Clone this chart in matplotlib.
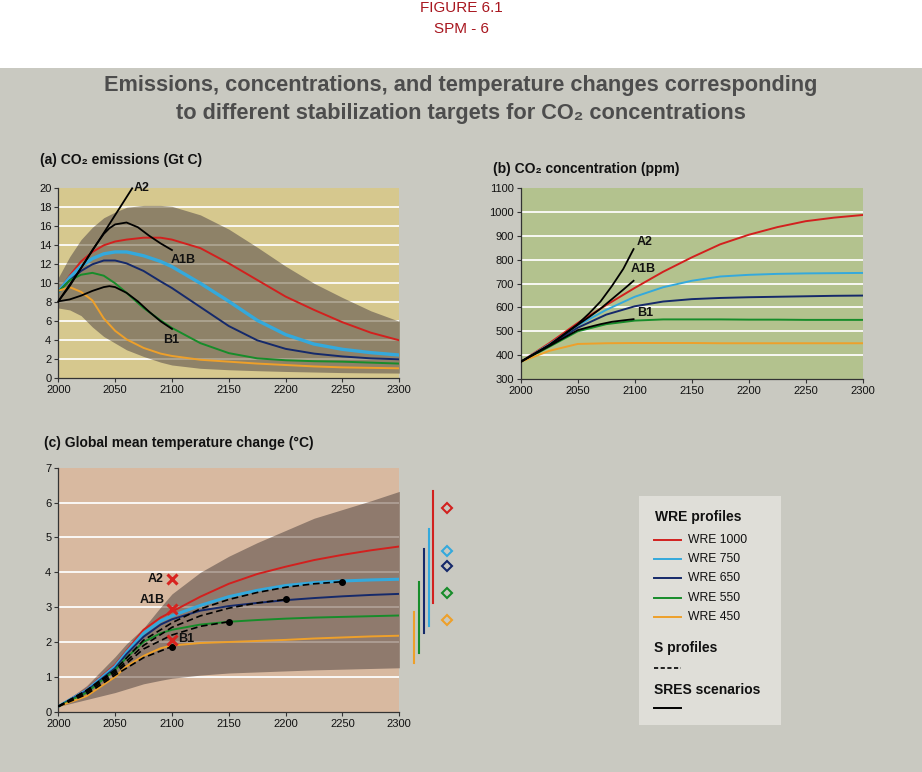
import matplotlib
matplotlib.use("Agg")
import matplotlib.pyplot as plt
from matplotlib.patches import Rectangle

plt.rcParams['font.family'] = ['Liberation Sans', 'DejaVu Sans']

# ---------------- data ----------------
wre_names = ["WRE 1000", "WRE 750", "WRE 650", "WRE 550", "WRE 450"]
wre_colors = ["#d2201e", "#34a9dc", "#15296a", "#178c2a", "#eea02a"]

# (a) emissions
em_years = [2000, 2010, 2020, 2030, 2040, 2050, 2060, 2075, 2090, 2100,
            2125, 2150, 2175, 2200, 2225, 2250, 2275, 2300]
em_1000 = [9.1, 10.8, 12.3, 13.3, 14.0, 14.4, 14.6, 14.8, 14.8, 14.6,
           13.7, 12.1, 10.35, 8.6, 7.2, 5.9, 4.8, 4.0]
em_750 = [9.1, 10.6, 11.8, 12.6, 13.1, 13.3, 13.3, 12.9, 12.3, 11.75,
          10.0, 8.1, 6.1, 4.6, 3.6, 3.05, 2.7, 2.45]
em_650 = [9.1, 10.3, 11.3, 12.0, 12.4, 12.4, 12.1, 11.3, 10.2, 9.5,
          7.5, 5.5, 4.0, 3.1, 2.6, 2.3, 2.1, 2.0]
em_550 = [9.1, 10.3, 10.9, 11.1, 10.8, 10.0, 9.0, 7.4, 6.1, 5.3,
          3.7, 2.65, 2.1, 1.9, 1.8, 1.75, 1.65, 1.55]
em_450 = [9.2, 9.6, 9.1, 8.2, 6.3, 5.0, 4.1, 3.2, 2.6, 2.35,
          1.95, 1.75, 1.55, 1.4, 1.25, 1.15, 1.1, 1.05]
em_band_hi = [10.6, 12.8, 14.6, 15.9, 16.9, 17.5, 18.0, 18.2, 18.2, 18.1,
              17.2, 15.7, 13.8, 11.8, 10.0, 8.5, 7.1, 6.0]
em_band_lo = [7.4, 7.2, 6.6, 5.4, 4.4, 3.7, 3.0, 2.3, 1.7, 1.4,
              1.05, 0.9, 0.8, 0.72, 0.66, 0.6, 0.57, 0.55]
a2_em_years = [2000, 2020, 2040, 2065]
a2_em = [8.1, 11.6, 15.3, 20.0]
sres_em_years = [2000, 2010, 2020, 2030, 2040, 2045, 2050, 2060, 2070, 2080, 2090, 2100]
a1b_em = [8.1, 9.7, 11.6, 13.5, 15.2, 15.8, 16.2, 16.4, 15.9, 15.0, 14.2, 13.5]
b1_em = [8.1, 8.3, 8.7, 9.2, 9.6, 9.7, 9.6, 9.0, 8.1, 7.0, 6.0, 5.2]

# (b) concentrations
co_years = [2000, 2025, 2050, 2075, 2100, 2125, 2150, 2175, 2200, 2225, 2250, 2275, 2300]
co_1000 = [372, 450, 535, 610, 682, 750, 810, 865, 905, 937, 962, 977, 988]
co_750 = [372, 445, 525, 590, 645, 685, 712, 730, 737, 741, 743, 744, 745]
co_650 = [372, 440, 515, 570, 605, 625, 635, 640, 643, 645, 647, 649, 650]
co_550 = [372, 435, 500, 530, 545, 550, 550, 550, 549, 549, 548, 548, 548]
co_450 = [372, 418, 447, 450, 451, 451, 451, 450, 450, 450, 450, 450, 450]
sres_co_years = [2000, 2025, 2050, 2060, 2070, 2080, 2090, 2099]
a2_co = [372, 442, 530, 575, 625, 690, 762, 845]
a1b_co = [372, 442, 527, 560, 595, 635, 675, 712]
b1_co = [372, 438, 505, 518, 530, 540, 546, 551]

# (c) temperature
t_years = [2000, 2025, 2050, 2060, 2075, 2090, 2100, 2125, 2150, 2175,
           2200, 2225, 2250, 2275, 2300]
t_1000 = [0.15, 0.65, 1.35, 1.75, 2.35, 2.7, 2.87, 3.3, 3.67, 3.95,
          4.16, 4.35, 4.5, 4.63, 4.74]
t_750 = [0.15, 0.62, 1.3, 1.7, 2.25, 2.6, 2.75, 3.05, 3.3, 3.48,
         3.62, 3.7, 3.75, 3.78, 3.8]
t_650 = [0.15, 0.6, 1.25, 1.65, 2.15, 2.5, 2.65, 2.9, 3.03, 3.12,
         3.2, 3.26, 3.31, 3.35, 3.38]
t_550 = [0.15, 0.55, 1.2, 1.55, 2.0, 2.25, 2.35, 2.5, 2.58, 2.63,
         2.67, 2.7, 2.72, 2.74, 2.76]
t_450 = [0.15, 0.45, 1.0, 1.3, 1.6, 1.82, 1.9, 1.97, 2.0, 2.03,
         2.06, 2.1, 2.13, 2.16, 2.18]
t_band_hi = [0.15, 0.75, 1.58, 1.95, 2.4, 3.0, 3.38, 4.0, 4.46, 4.85,
             5.2, 5.55, 5.8, 6.05, 6.32]
t_band_lo = [0.15, 0.35, 0.55, 0.65, 0.8, 0.9, 0.96, 1.05, 1.11, 1.14,
             1.17, 1.2, 1.22, 1.24, 1.26]
s_years = [2000, 2025, 2050, 2075, 2100, 2125, 2150, 2175, 2200, 2225, 2250]
s_450 = [0.15, 0.5, 1.05, 1.55, 1.87]
s_550 = [0.15, 0.55, 1.1, 1.8, 2.2, 2.45, 2.58]
s_650 = [0.15, 0.6, 1.15, 1.9, 2.42, 2.75, 2.97, 3.12, 3.22]
s_750 = [0.15, 0.62, 1.2, 2.05, 2.55, 2.95, 3.22, 3.42, 3.57, 3.67, 3.73]
sres_names = ["A2", "A1B", "B1"]
sres_t2100 = [3.8, 2.95, 2.05]
range_lo = [3.12, 2.46, 2.25, 1.67, 1.39]
range_hi = [6.33, 5.23, 4.67, 3.71, 2.87]
range_mid = [5.85, 4.62, 4.18, 3.41, 2.63]

x_ticks = [2000, 2050, 2100, 2150, 2200, 2250, 2300]
em_ticks = list(range(0, 21, 2))
co_ticks = list(range(300, 1101, 100))
t_ticks = list(range(0, 8))

# ---------------- styling ----------------
FIG_BG = "#c9c9c1"
TXT = "#111111"

fig = plt.figure(figsize=(9.22, 7.72), dpi=100, facecolor="white")
fig.add_artist(Rectangle((0, 0), 1, 1 - 68 / 772, transform=fig.transFigure,
                         facecolor=FIG_BG, edgecolor="none", zorder=-10))

fig.text(0.5, 1 - 8 / 772, "FIGURE 6.1", ha="center", va="center",
         color="#a8161f", fontsize=11)
fig.text(0.5, 1 - 29 / 772, "SPM - 6", ha="center", va="center",
         color="#a8161f", fontsize=11)
fig.text(0.5, 1 - 86 / 772,
         "Emissions, concentrations, and temperature changes corresponding",
         ha="center", va="center", color="#4d4d4d", fontsize=15.7, fontweight="bold")
fig.text(0.5, 1 - 113 / 772,
         "to different stabilization targets for CO\u2082 concentrations",
         ha="center", va="center", color="#4d4d4d", fontsize=15.7, fontweight="bold")


def make_ax(rect, bg, yticks, ylim):
    ax = fig.add_axes(rect)
    ax.set_facecolor(bg)
    ax.set_xlim(2000, 2300)
    ax.set_ylim(*ylim)
    ax.set_xticks(x_ticks)
    ax.set_yticks(yticks)
    for s in ("top", "right"):
        ax.spines[s].set_visible(False)
    for s in ("left", "bottom"):
        ax.spines[s].set_color("#333333")
        ax.spines[s].set_linewidth(0.9)
    ax.tick_params(direction="out", length=3, width=0.8, color="#333333",
                   labelsize=8, labelcolor=TXT, pad=2)
    return ax


def grid_lines(ax, ticks):
    for v in ticks[1:-1]:
        ax.axhline(v, color="white", lw=1.2, zorder=0.3)
        ax.axhline(v, color="white", lw=1.2, alpha=0.3, zorder=0.6)


W = 341 / 922
TITLE_FS = 10
# ---------- panel (a) ----------
axa = make_ax([58.3 / 922, 1 - 378.3 / 772, W, 190 / 772], "#d6c88e", em_ticks, (0, 20))
grid_lines(axa, em_ticks)
axa.fill_between(em_years, em_band_lo, em_band_hi, color="#8e8268", lw=0, zorder=0.5)
for vals, c, lw in zip([em_1000, em_750, em_650, em_550, em_450], wre_colors,
                       [1.4, 2.4, 1.4, 1.4, 1.4]):
    axa.plot(em_years, vals, color=c, lw=lw, zorder=2)
axa.plot(a2_em_years, a2_em, color="black", lw=1.3, zorder=3, clip_on=False)
axa.plot(sres_em_years, a1b_em, color="black", lw=1.3, zorder=3)
axa.plot(sres_em_years, b1_em, color="black", lw=1.3, zorder=3)
kw = dict(fontsize=9, fontweight="bold", color=TXT, va="center", ha="left")
axa.text(2066.6, 20.0, "A2", clip_on=False, **kw)
axa.text(2098.8, 12.45, "A1B", **kw)
axa.text(2092.4, 4.0, "B1", **kw)
fig.text(40 / 922, 1 - 160 / 772, "(a) CO\u2082 emissions (Gt C)", fontsize=TITLE_FS,
         fontweight="bold", va="center", ha="left", color=TXT)

# ---------- panel (b) ----------
axb = make_ax([520.7 / 922, 1 - 379 / 772, 342 / 922, 190.7 / 772], "#b3c28e", co_ticks, (300, 1100))
grid_lines(axb, co_ticks)
for vals, c in zip([co_1000, co_750, co_650, co_550, co_450], wre_colors):
    axb.plot(co_years, vals, color=c, lw=1.4, zorder=2)
axb.plot(sres_co_years, a2_co, color="black", lw=1.3, zorder=3)
axb.plot(sres_co_years, a1b_co, color="black", lw=1.3, zorder=3)
axb.plot(sres_co_years, b1_co, color="black", lw=1.3, zorder=3)
axb.text(2101.8, 873, "A2", **kw)
axb.text(2096.5, 760, "A1B", **kw)
axb.text(2101.8, 575, "B1", **kw)
fig.text(493 / 922, 1 - 169 / 772, "(b) CO\u2082 concentration (ppm)", fontsize=TITLE_FS,
         fontweight="bold", va="center", ha="left", color=TXT)

# ---------- panel (c) ----------
axc = make_ax([58.3 / 922, 1 - 711.7 / 772, W, 244 / 772], "#d8b9a0", t_ticks, (0, 7))
grid_lines(axc, t_ticks)
axc.fill_between(t_years, t_band_lo, t_band_hi, color="#8f7a6d", lw=0, zorder=0.5)
for vals, c, lw in zip([t_1000, t_750, t_650, t_550, t_450], wre_colors,
                       [1.4, 2.2, 1.4, 1.4, 1.4]):
    axc.plot(t_years, vals, color=c, lw=lw, zorder=2)
for s in [s_450, s_550, s_650, s_750]:
    yrs = s_years[:len(s)]
    axc.plot(yrs, s, color="black", lw=1.2, ls=(0, (4, 2.2)), zorder=3)
    axc.plot(yrs[-1], s[-1], "o", color="black", ms=4, zorder=4)
for v in sres_t2100:
    axc.plot(2100, v, "x", color="#d8231f", ms=6.5, mew=2.2, zorder=5)
axc.text(2092.4, 3.82, "A2", fontsize=9, fontweight="bold", color=TXT, va="center", ha="right")
axc.text(2093.8, 3.2, "A1B", fontsize=9, fontweight="bold", color=TXT, va="center", ha="right")
axc.text(2105.6, 2.1, "B1", **kw)
for i, (lo, hi, mid, c) in enumerate(zip(range_lo, range_hi, range_mid, wre_colors)):
    xb = 2330 - 4.2 * i
    axc.plot([xb, xb], [lo, hi], color=c, lw=1.5, clip_on=False, zorder=3)
    axc.plot(2342, mid, "D", mfc="none", mec=c, mew=1.5, ms=5, clip_on=False, zorder=3)
fig.text(44 / 922, 1 - 443 / 772, "(c) Global mean temperature change (\u00b0C)", fontsize=TITLE_FS,
         fontweight="bold", va="center", ha="left", color=TXT)

# ---------- legend ----------
axl = fig.add_axes([638.7 / 922, 1 - 725 / 772, 142 / 922, 229 / 772])
axl.set_facecolor("#dfded8")
axl.set_xlim(638.7, 780.7)
axl.set_ylim(725, 496)
axl.set_xticks([])
axl.set_yticks([])
for s in axl.spines.values():
    s.set_visible(False)
axl.text(655, 516.5, "WRE profiles", fontsize=10, fontweight="bold", va="center", color=TXT)
for j, (name, c) in enumerate(zip(wre_names, wre_colors)):
    yy = 540 + 19.2 * j
    axl.plot([654, 681], [yy, yy], color=c, lw=1.4)
    axl.text(688, yy, name, fontsize=8.7, va="center", color=TXT)
axl.text(654, 648, "S profiles", fontsize=10, fontweight="bold", va="center", color=TXT)
axl.plot([654, 681], [668, 668], color="black", lw=1.2, ls=(0, (2.5, 1.5)))
axl.text(654, 690, "SRES scenarios", fontsize=10, fontweight="bold", va="center", color=TXT)
axl.plot([654, 681], [708, 708], color="black", lw=1.4)

fig.savefig("out.png", dpi=100, facecolor=fig.get_facecolor())
